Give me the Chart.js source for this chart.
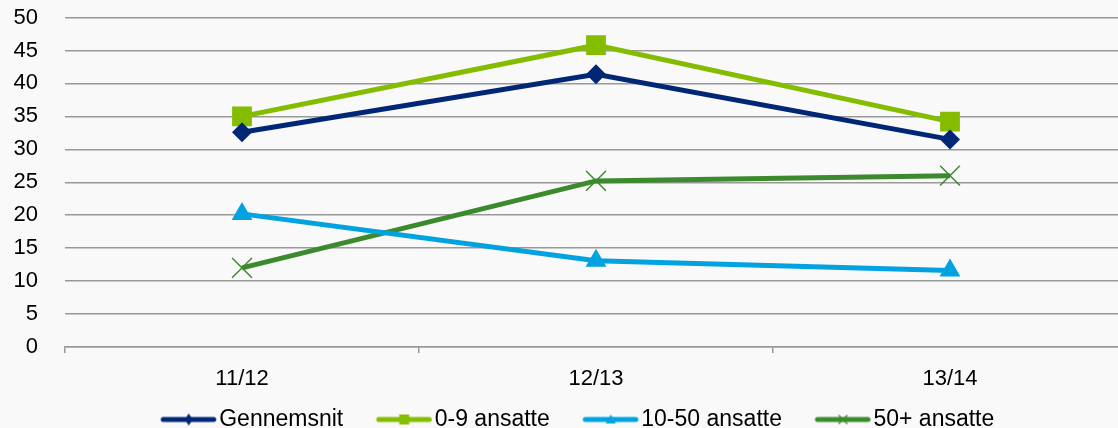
<!DOCTYPE html>
<html>
<head>
    <title>Ansatte</title>
    <script src="https://cdn.jsdelivr.net/npm/chart.js"></script>
    <style>
        html, body { margin: 0; overflow: hidden; background: #f9f9f9; }
    </style>
</head>
<body>
    <!-- a little wider than the window: the last category slot runs past the right edge, as in the original -->
    <canvas id="chart" width="1127" height="428"></canvas>
    <script>
        const categories = ['11/12', '12/13', '13/14'];
        const seriesNames = ['Gennemsnit', '0-9 ansatte', '10-50 ansatte', '50+ ansatte'];
        const gennemsnit = [32.6, 41.4, 31.5];
        const ansatte0to9 = [35.0, 45.8, 34.2];
        const ansatte10to50 = [20.2, 13.1, 11.6];
        const ansatte50plus = [12.0, 25.2, 26.0];
        const yTicks = [0, 5, 10, 15, 20, 25, 30, 35, 40, 45, 50];

        const colors = ['#002776', '#84bd00', '#00a3e0', '#3c8a2e'];
        const styles = ['rectRot', 'rect', 'triangle', 'crossRot'];
        const radii = [10, 14, 12, 14];
        const font = { family: 'Liberation Sans, Arial', size: 22, lineHeight: 1 };
        const legendFont = { family: 'Liberation Sans, Arial', size: 23, lineHeight: 1 };

        // line + marker picture for the legend (transparent margin keeps the gaps right)
        function legendImage(color, style) {
            const c = document.createElement('canvas');
            c.width = 104; c.height = 16;
            const g = c.getContext('2d');
            g.strokeStyle = color; g.fillStyle = color;
            g.lineWidth = 5; g.lineCap = 'round';
            g.beginPath(); g.moveTo(47, 8); g.lineTo(97.5, 8); g.stroke();
            const m = 72.5;
            g.lineWidth = 1.3;
            g.beginPath();
            if (style === 'rectRot') {
                g.moveTo(m, 2); g.lineTo(m + 4, 8); g.lineTo(m, 14); g.lineTo(m - 4, 8); g.closePath(); g.fill();
            } else if (style === 'rect') {
                g.fillRect(m - 5, 3, 10, 10);
            } else if (style === 'triangle') {
                g.moveTo(m, 3); g.lineTo(m + 5, 12); g.lineTo(m - 5, 12); g.closePath(); g.fill();
            } else {
                g.moveTo(m - 4, 4); g.lineTo(m + 4, 12); g.moveTo(m + 4, 4); g.lineTo(m - 4, 12); g.stroke();
            }
            return c;
        }
        const legendImgs = colors.map((c, i) => legendImage(c, styles[i]));

        const allData = [gennemsnit, ansatte0to9, ansatte10to50, ansatte50plus];

        // nudge the legend a bit sideways and down
        const legendShift = {
            id: 'legendShift',
            afterLayout: chart => {
                const l = chart.legend;
                l.left -= 2; l.right -= 2;
                l.top += 2; l.bottom += 2;
            }
        };

        new Chart(document.getElementById('chart'), {
            type: 'line',
            data: {
                labels: categories,
                datasets: allData.map((d, i) => ({
                    label: seriesNames[i],
                    data: d,
                    borderColor: colors[i],
                    backgroundColor: colors[i],
                    borderWidth: 5,
                    pointStyle: styles[i],
                    pointRadius: radii[i],
                    pointHoverRadius: radii[i],
                    pointBorderWidth: styles[i] === 'crossRot' ? 1.5 : 0,
                    pointBorderColor: colors[i],
                    pointBackgroundColor: colors[i],
                    tension: 0
                }))
            },
            plugins: [legendShift],
            options: {
                responsive: false,
                animation: false,
                layout: { autoPadding: false, padding: { top: 17.5, left: 0, right: 0, bottom: -11 } },
                plugins: {
                    tooltip: { enabled: false },
                    legend: {
                        position: 'bottom',
                        labels: {
                            usePointStyle: true,
                            pointStyleWidth: 79,
                            boxHeight: 16,
                            padding: 1,
                            color: '#000',
                            font: legendFont,
                            generateLabels: chart => {
                                const items = Chart.defaults.plugins.legend.labels.generateLabels(chart);
                                items.forEach((it, i) => { it.pointStyle = legendImgs[i]; });
                                return items;
                            }
                        }
                    }
                },
                scales: {
                    x: {
                        offset: true,
                        grid: { offset: true, drawOnChartArea: false, tickLength: 6, color: '#999', lineWidth: 1.5 },
                        border: { display: true, color: '#999', width: 1.5 },
                        ticks: { color: '#000', padding: 15, font: font }
                    },
                    y: {
                        min: 0,
                        max: 50,
                        afterBuildTicks: axis => { axis.ticks = yTicks.map(v => ({ value: v })); },
                        afterFit: axis => { axis.width = 65; },
                        grid: { drawTicks: true, tickLength: 27, tickColor: 'rgba(0,0,0,0)', color: '#999', lineWidth: 1.5 },
                        border: { display: false },
                        ticks: { color: '#000', padding: 0, autoSkip: false, font: font }
                    }
                }
            }
        });
    </script>
</body>
</html>
